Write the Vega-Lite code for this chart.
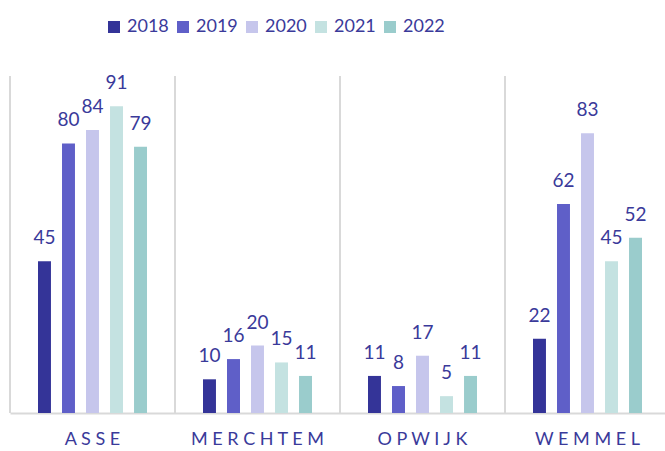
{
  "$schema": "https://vega.github.io/schema/vega-lite/v6.json",
  "width": 655,
  "height": 337,
  "autosize": {"type": "none"},
  "padding": {"left": 10, "top": 76, "right": 0, "bottom": 38},
  "background": "white",
  "config": {"view": {"stroke": null}, "font": "Lato"},
  "data": {
    "values": [
      {"town": "ASSE", "year": "2018", "value": 45},
      {"town": "ASSE", "year": "2019", "value": 80},
      {"town": "ASSE", "year": "2020", "value": 84},
      {"town": "ASSE", "year": "2021", "value": 91},
      {"town": "ASSE", "year": "2022", "value": 79},
      {"town": "MERCHTEM", "year": "2018", "value": 10},
      {"town": "MERCHTEM", "year": "2019", "value": 16},
      {"town": "MERCHTEM", "year": "2020", "value": 20},
      {"town": "MERCHTEM", "year": "2021", "value": 15},
      {"town": "MERCHTEM", "year": "2022", "value": 11},
      {"town": "OPWIJK", "year": "2018", "value": 11},
      {"town": "OPWIJK", "year": "2019", "value": 8},
      {"town": "OPWIJK", "year": "2020", "value": 17},
      {"town": "OPWIJK", "year": "2021", "value": 5},
      {"town": "OPWIJK", "year": "2022", "value": 11},
      {"town": "WEMMEL", "year": "2018", "value": 22},
      {"town": "WEMMEL", "year": "2019", "value": 62},
      {"town": "WEMMEL", "year": "2020", "value": 83},
      {"town": "WEMMEL", "year": "2021", "value": 45},
      {"town": "WEMMEL", "year": "2022", "value": 52}
    ]
  },
  "encoding": {
    "x": {
      "field": "town",
      "type": "nominal",
      "sort": ["ASSE", "MERCHTEM", "OPWIJK", "WEMMEL"],
      "scale": {"range": [0, 660], "paddingInner": 0, "paddingOuter": 0},
      "axis": {
        "title": null,
        "ticks": false,
        "domainColor": "#d9d9d9",
        "domainWidth": 2,
        "labelFont": "Lato",
        "labelFontSize": 18,
        "labelColor": "#3a3a9a",
        "labelPadding": 17,
        "labelAngle": 0,
        "labelExpr": "join(split(datum.label, ''), ' ')"
      }
    }
  },
  "layer": [
    {
      "mark": {"type": "rule", "color": "#d9d9d9", "strokeWidth": 2},
      "encoding": {
        "x": {"field": "town", "type": "nominal", "bandPosition": 0, "sort": ["ASSE", "MERCHTEM", "OPWIJK", "WEMMEL"]}
      }
    },
    {
      "mark": {"type": "bar"},
      "encoding": {
        "xOffset": {"field": "year", "type": "nominal", "scale": {"range": [28, 137], "paddingInner": 0.46, "paddingOuter": 0}},
        "y": {"field": "value", "type": "quantitative", "scale": {"domain": [0, 100], "nice": false}, "axis": null},
        "color": {
          "field": "year",
          "type": "nominal",
          "scale": {"domain": ["2018", "2019", "2020", "2021", "2022"], "range": ["#343498", "#5f5fc8", "#c6c6ec", "#c4e2e1", "#9acccc"]},
          "legend": {
            "title": null,
            "orient": "none",
            "direction": "horizontal",
            "legendX": 95,
            "legendY": -58,
            "symbolType": "square",
            "symbolSize": 144,
            "symbolStrokeWidth": 0,
            "labelFont": "Lato",
            "labelFontSize": 18,
            "labelColor": "#3a3a9a",
            "labelOffset": 4,
            "columnPadding": 5
          }
        }
      }
    },
    {
      "mark": {"type": "text", "baseline": "alphabetic", "dy": -17, "font": "Lato", "fontSize": 19, "color": "#3a3a9a"},
      "encoding": {
        "xOffset": {"field": "year", "type": "nominal", "scale": {"range": [28, 137], "paddingInner": 0.46, "paddingOuter": 0}},
        "y": {"field": "value", "type": "quantitative"},
        "text": {"field": "value", "type": "quantitative"}
      }
    }
  ]
}
